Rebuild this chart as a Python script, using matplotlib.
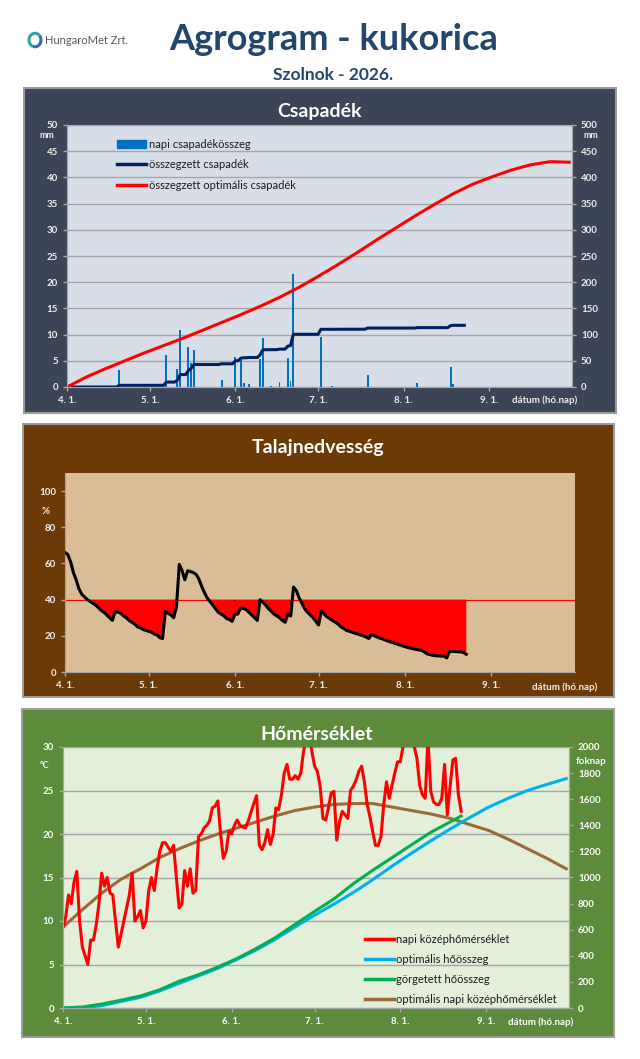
import numpy as np
import matplotlib.pyplot as plt
from matplotlib.patches import Rectangle, Patch, Arc
from matplotlib.lines import Line2D

plt.rcParams['font.family'] = ['Lato', 'DejaVu Sans']

W, H = 640, 1059

# ---------------- data ----------------
month_ticks = [0, 30, 61, 91, 122, 153]
month_labels = ['4. 1.', '5. 1.', '6. 1.', '7. 1.', '8. 1.', '9. 1.']

# daily precipitation (day index from 04.01, mm)
rain_day = [19, 36, 40, 41, 44, 45, 46, 56, 61, 63, 64, 66, 70, 71, 74, 77, 80, 81,
            82, 92, 96, 109, 127, 139, 140]
rain_mm = [3.2, 6.2, 3.5, 10.8, 7.6, 4.5, 7.1, 1.4, 5.7, 5.1, 0.7, 0.5, 5.4, 9.4,
           0.2, 1.0, 5.6, 1.2, 21.5, 9.5, 0.2, 2.2, 0.8, 3.9, 0.5]
n_obs = 145

# optimal cumulative precipitation (weekly points, mm)
opt_day = [0, 7, 14, 21, 28, 35, 42, 49, 56, 63, 70, 77, 84, 91, 98, 105, 112, 119,
           126, 133, 140, 147, 154, 161, 168, 175, 182]
opt_rain = [0, 19, 35, 50, 65, 79, 93, 108, 123, 138, 154, 171, 190, 211, 233, 256,
            280, 303, 326, 348, 369, 387, 401, 414, 424, 430, 429]

# soil moisture (%)
soil = [66, 65, 61, 55, 51, 46, 43, 41.5, 40, 39,
        38, 37, 35.5, 34, 33, 31.5, 30, 28.5, 33.5, 33,
        32.5, 31, 30, 28.5, 27.5, 26.5, 25, 24.5, 23.5, 23,
        22.5, 22, 21, 20.5, 19, 18.5, 33.5, 32.5, 31.5, 30,
        36, 59.5, 56, 51, 56, 55.5, 55, 54, 51.5, 47.5,
        44, 41, 39, 37, 35, 33, 32, 31, 29.5, 29,
        28, 32, 32, 35.5, 35, 34.5, 33, 31.5, 30, 28.5,
        40, 38.5, 37, 35, 33.5, 32, 31, 30, 28.5, 27.5,
        32, 31, 47, 45, 41, 38, 35, 33, 31.5, 30,
        28, 26, 34, 32, 30.5, 29.5, 28.5, 27.5, 26.5, 25,
        24, 23, 22.5, 22, 21.5, 21, 20.5, 20, 19.3, 18.5,
        20.8, 20, 19.3, 18.7, 18.2, 17.6, 17, 16.5, 16, 15.5,
        15, 14.5, 14, 13.5, 13.2, 12.8, 12.5, 12.2, 12, 11,
        10, 9.6, 9.2, 9, 8.9, 8.8, 8.7, 7.8, 11.4, 11.4,
        11.3, 11.2, 11.1, 10.8, 9.8]
soil_limit = 40

# daily mean temperature (°C)
temp = [9.3, 10.5, 13.0, 12.0, 14.5, 15.7, 10.0, 7.0, 6.0, 5.0,
        7.8, 7.8, 9.5, 12.0, 15.5, 14.0, 15.0, 13.2, 13.0, 10.0,
        7.0, 8.5, 10.0, 11.5, 13.0, 15.5, 10.0, 10.5, 11.2, 9.2,
        10.0, 13.5, 15.0, 13.5, 16.0, 18.0, 19.0, 19.0, 18.5, 18.0,
        18.7, 15.0, 11.5, 12.0, 15.8, 14.0, 16.0, 13.2, 13.5, 19.7,
        20.0, 20.7, 21.0, 21.5, 23.0, 23.2, 23.8, 20.0, 17.2, 18.0,
        20.3, 20.0, 21.0, 21.6, 21.0, 20.8, 20.7, 21.5, 22.5, 23.5,
        24.4, 18.7, 18.2, 19.0, 20.5, 18.8, 20.0, 23.0, 22.8, 24.5,
        27.0, 28.0, 26.3, 26.3, 26.7, 26.3, 27.0, 29.5, 31.0, 31.5,
        29.5, 27.8, 27.2, 25.5, 21.8, 21.6, 23.0, 24.7, 24.9, 19.3,
        21.4, 22.6, 22.2, 21.8, 25.0, 25.5, 26.2, 27.2, 27.8, 26.0,
        23.4, 22.0, 20.3, 18.7, 18.7, 19.7, 23.4, 26.0, 24.1, 25.6,
        27.0, 28.3, 28.3, 30.1, 31.5, 32.0, 31.5, 30.1, 28.7, 25.6,
        24.5, 24.1, 31.0, 24.9, 23.7, 23.4, 23.4, 24.1, 28.0, 22.2,
        25.5, 28.5, 28.7, 24.5, 22.6]

# optimal daily mean temperature (weekly points, °C)
opt_temp = [9.3, 11.3, 13.2, 14.8, 16.0, 17.3, 18.3, 19.2, 20.0, 20.7, 21.4, 22.1,
            22.7, 23.1, 23.4, 23.5, 23.5, 23.1, 22.7, 22.3, 21.8, 21.1, 20.4, 19.4,
            18.3, 17.2, 16.0]
# optimal heat sum (weekly points, foknap)
opt_heat = [0, 2, 18, 50, 82, 131, 189, 246, 304, 373, 446, 529, 622, 711, 796, 885,
            983, 1087, 1185, 1281, 1371, 1458, 1540, 1607, 1667, 1713, 1758]
# rolling heat sum (weekly points, foknap)
roll_day = [0, 7, 14, 21, 28, 35, 42, 49, 56, 63, 70, 77, 84, 91, 98, 105, 112, 119,
            126, 133, 140, 144]
roll_heat = [0, 8, 30, 60, 92, 140, 205, 255, 314, 380, 457, 542, 642, 740, 836, 952,
             1055, 1152, 1250, 1346, 1425, 1472]


# ---------------- helpers ----------------
def fig_axes(x0, y0, x1, y1):
    return fig.add_axes([x0 / W, 1 - y1 / H, (x1 - x0) / W, (y1 - y0) / H])


def panel(x0, y0, x1, y1, color):
    fig.patches.append(Rectangle((x0 / W, 1 - y1 / H), (x1 - x0) / W, (y1 - y0) / H,
                                 transform=fig.transFigure, fc=color, ec='#9c9c9c',
                                 lw=1.5, zorder=-10))


def ftext(x, y, s, **kw):
    fig.text(x / W, 1 - y / H, s, **kw)


def style_axis(ax, labelcolor):
    ax.tick_params(axis='both', direction='out', length=3, color='#a6a6a6',
                   labelcolor=labelcolor, labelsize=7, width=1)
    for lab in ax.get_xticklabels() + ax.get_yticklabels():
        lab.set_fontweight('bold')
    for sp in ax.spines.values():
        sp.set_color('#a6a6a6')


fig = plt.figure(figsize=(W / 100, H / 100), dpi=100)
fig.patch.set_facecolor('white')

# ---------------- header ----------------
logo = fig_axes(27, 31, 43, 49)
logo.set_xlim(-1, 1)
logo.set_ylim(-1, 1)
logo.axis('off')
logo.add_patch(Arc((0, 0), 1.5, 1.5, theta1=40, theta2=250, color='#2aa7a0', lw=2.2))
logo.add_patch(Arc((0, 0), 1.5, 1.5, theta1=250, theta2=400, color='#2f6db5', lw=2.2))
ftext(45, 40, 'HungaroMet Zrt.', fontsize=8, color='#5a5a5a', va='center', ha='left')
ftext(334, 40, 'Agrogram - kukorica', fontsize=26, fontweight='bold', color='#24456c',
      ha='center', va='center')
ftext(333, 75, 'Szolnok - 2026.', fontsize=12.5, fontweight='bold', color='#24456c',
      ha='center', va='center')

# ---------------- panel 1: precipitation ----------------
panel(24, 88, 616, 413, '#3b4557')
ftext(320, 112, 'Csapadék', fontsize=14, fontweight='bold', color='white',
      ha='center', va='center')
ax1 = fig_axes(67, 125, 572, 387)
ax1.set_facecolor('#d8dee8')
rain_daily = np.zeros(n_obs)
rain_daily[rain_day] = rain_mm
ax1.bar(rain_day, rain_mm, width=0.7, color='#0070c0', zorder=2)
ax1.set_xlim(0, 183)
ax1.set_ylim(0, 50)
ax1.set_yticks(range(0, 51, 5))
ax1.set_xticks(month_ticks)
ax1.set_xticklabels(month_labels)
ax1.yaxis.grid(True, color='#a6a6a6', lw=1)
ax1.set_axisbelow(True)
ax1r = ax1.twinx()
ax1r.plot(np.arange(n_obs), np.cumsum(rain_daily), color='#002060', lw=2.2)
ax1r.plot(opt_day, opt_rain, color='#ff0000', lw=2.2)
ax1r.set_ylim(0, 500)
ax1r.set_yticks(range(0, 501, 50))
style_axis(ax1, '#eeeeee')
style_axis(ax1r, '#eeeeee')
ftext(47, 136, 'mm', fontsize=6.5, fontweight='bold', color='#eeeeee', ha='center', va='center')
ftext(591, 136, 'mm', fontsize=6.5, fontweight='bold', color='#eeeeee', ha='center', va='center')
ftext(545, 400, 'dátum (hó.nap)', fontsize=7, fontweight='bold', color='#eeeeee',
      ha='center', va='center')
h1 = [Patch(color='#0070c0'), Line2D([], [], color='#002060', lw=2.5),
      Line2D([], [], color='#ff0000', lw=2.5)]
ax1r.legend(h1, ['napi csapadékösszeg', 'összegzett csapadék', 'összegzett optimális csapadék'],
            loc='upper left', bbox_to_anchor=(0.08, 0.985), frameon=False, fontsize=8,
            handlelength=2.6, handleheight=0.8, handletextpad=0.2, labelspacing=0.85,
            labelcolor='#1a1a1a')

# ---------------- panel 2: soil moisture ----------------
panel(23, 424, 614, 697, '#6b3a07')
ftext(318, 448, 'Talajnedvesség', fontsize=14, fontweight='bold', color='white',
      ha='center', va='center')
ax2 = fig_axes(65, 473, 575, 672)
ax2.set_facecolor('#d8bd96')
sd = np.arange(len(soil))
sv = np.array(soil)
ax2.fill_between(sd, sv, soil_limit, where=sv < soil_limit, interpolate=True,
                 color='#ff0000', lw=0, zorder=1)
ax2.axhline(soil_limit, color='#ff0000', lw=0.9, zorder=1)
ax2.plot(sd, sv, color='black', lw=2.2, zorder=3)
ax2.set_xlim(0, 183)
ax2.set_ylim(0, 110)
ax2.set_yticks(range(0, 101, 20))
ax2.set_xticks(month_ticks)
ax2.set_xticklabels(month_labels)
ax2.spines['top'].set_visible(False)
ax2.spines['right'].set_visible(False)
style_axis(ax2, '#f2f2f2')
ftext(46, 512, '%', fontsize=7, fontweight='bold', color='#f2f2f2', ha='center', va='center')
ftext(565, 687, 'dátum (hó.nap)', fontsize=7, fontweight='bold', color='#f2f2f2',
      ha='center', va='center')

# ---------------- panel 3: temperature ----------------
panel(22, 709, 614, 1037, '#5b8b3b')
ftext(317, 734, 'Hőmérséklet', fontsize=14, fontweight='bold', color='white',
      ha='center', va='center')
ax3 = fig_axes(63, 747, 569, 1008)
ax3.set_facecolor('#e3efd9')
ax3.plot(np.arange(len(temp)), temp, color='#ff0000', lw=2.2, zorder=3)
ax3.plot(opt_day, opt_temp, color='#9a6a3a', lw=2.2, zorder=2)
ax3.set_xlim(0, 183)
ax3.set_ylim(0, 30)
ax3.set_yticks(range(0, 31, 5))
ax3.set_xticks(month_ticks)
ax3.set_xticklabels(month_labels)
ax3.yaxis.grid(True, color='#a6a6a6', lw=1)
ax3.set_axisbelow(True)
ax3.spines['top'].set_visible(False)
ax3r = ax3.twinx()
ax3r.plot(opt_day, opt_heat, color='#00b0f0', lw=2.2)
ax3r.plot(roll_day, roll_heat, color='#00b050', lw=2.2)
ax3r.set_ylim(0, 2000)
ax3r.set_yticks(range(0, 2001, 200))
ax3r.spines['top'].set_visible(False)
style_axis(ax3, 'white')
style_axis(ax3r, 'white')
ftext(45, 765, '°C', fontsize=6.5, fontweight='bold', color='white', ha='center', va='center')
ftext(591, 761, 'foknap', fontsize=7, fontweight='bold', color='white', ha='center', va='center')
ftext(541, 1022, 'dátum (hó.nap)', fontsize=7, fontweight='bold', color='white',
      ha='center', va='center')
h3 = [Line2D([], [], color='#ff0000', lw=2.5), Line2D([], [], color='#00b0f0', lw=2.5),
      Line2D([], [], color='#00b050', lw=2.5), Line2D([], [], color='#9a6a3a', lw=2.5)]
ax3r.legend(h3, ['napi középhőmérséklet', 'optimális hőösszeg', 'görgetett hőösszeg',
                 'optimális napi középhőmérséklet'],
            loc='lower right', bbox_to_anchor=(0.995, -0.025), frameon=False, fontsize=8,
            handlelength=2.6, handletextpad=0.2, labelspacing=0.8, labelcolor='#1a1a1a')

fig.savefig('out.png', dpi=100, facecolor='white')
